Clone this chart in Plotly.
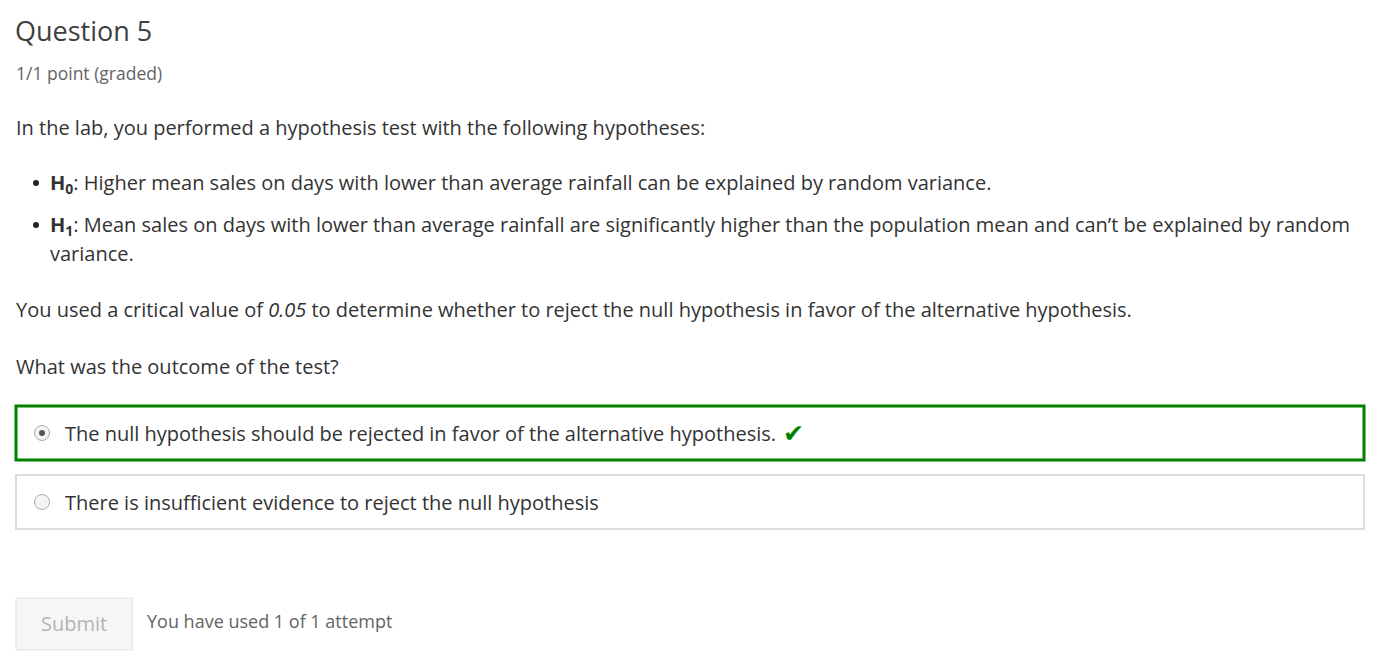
import plotly.graph_objects as go

# page content
title = "Question 5"
points = "1/1 point (graded)"
intro = "In the lab, you performed a hypothesis test with the following hypotheses:"
bullets = [
    ("<b>H<sub>0</sub></b>: Higher mean sales on days with lower than average rainfall can be explained by random variance.", 183),
    ("<b>H<sub>1</sub></b>: Mean sales on days with lower than average rainfall are significantly higher than the population mean and can\u2019t be explained by random", 225),
    ("variance.", 253),
]
bullet_y = [183, 225]
critical = "You used a critical value of <i>0.05</i> to determine whether to reject the null hypothesis in favor of the alternative hypothesis."
question = "What was the outcome of the test?"
options = [
    "The null hypothesis should be rejected in favor of the alternative hypothesis.",
    "There is insufficient evidence to reject the null hypothesis",
]
option_y = [433, 502]
selected = [True, False]
attempts = "You have used 1 of 1 attempt"

FONT = "Open Sans"
DARK = "#333333"
GREY = "#646464"
OFF = 8  # page body margin of the viewer

fig = go.Figure()

# bullets
fig.add_trace(go.Scatter(
    x=[36] * len(bullet_y), y=bullet_y, mode="markers",
    marker=dict(size=6, color="#222222"), hoverinfo="skip", showlegend=False))
# radio buttons
fig.add_trace(go.Scatter(
    x=[42] * len(options), y=option_y, mode="markers",
    marker=dict(size=15, color="#f4f4f4", line=dict(color="#a9a9a9", width=1)),
    hoverinfo="skip", showlegend=False))
fig.add_trace(go.Scatter(
    x=[42 for s in selected if s], y=[y for y, s in zip(option_y, selected) if s],
    mode="markers", marker=dict(size=6, color="#555555"),
    hoverinfo="skip", showlegend=False))

ann = []
def text(x, y, s, size, color=DARK, anchor="left", family=FONT):
    ann.append(dict(x=x, y=y, text=s, xref="x", yref="y", xanchor=anchor,
                    yanchor="middle", showarrow=False,
                    font=dict(family=family, size=size, color=color)))

text(13, 30, title, 27, "#404040")
text(14, 73, points, 17.5, GREY)
text(14, 127, intro, 20)
for s, y in bullets:
    text(48, y, s, 20)
text(14, 309, critical, 20)
text(14, 366, question, 20)
for s, y in zip(options, option_y):
    text(63, y, s, 20)
text(781, 433, "\u2714", 25, "#008100", family="DejaVu Sans")
text(74, 623, "Submit", 20, "#b4b4b4", anchor="center")
text(145, 621, attempts, 18, GREY)

shapes = [
    dict(type="rect", x0=16, x1=1364, y0=406, y1=460, xref="x", yref="y",
         line=dict(color="#008100", width=3), fillcolor="rgba(0,0,0,0)", layer="below"),
    dict(type="rect", x0=16, x1=1364, y0=475, y1=529, xref="x", yref="y",
         line=dict(color="#dddddd", width=2), fillcolor="rgba(0,0,0,0)", layer="below"),
    dict(type="rect", x0=16, x1=132, y0=598, y1=650, xref="x", yref="y",
         line=dict(color="#e2e2e2", width=1), fillcolor="#f6f6f6", layer="below"),
]

fig.update_layout(
    width=1378 - OFF, height=671 - OFF, margin=dict(l=0, r=0, t=0, b=0),
    paper_bgcolor="white", plot_bgcolor="white",
    xaxis=dict(range=[OFF, 1378], visible=False, fixedrange=True),
    yaxis=dict(range=[671, OFF], visible=False, fixedrange=True),
    annotations=ann, shapes=shapes,
)

fig.write_html("out.html")
